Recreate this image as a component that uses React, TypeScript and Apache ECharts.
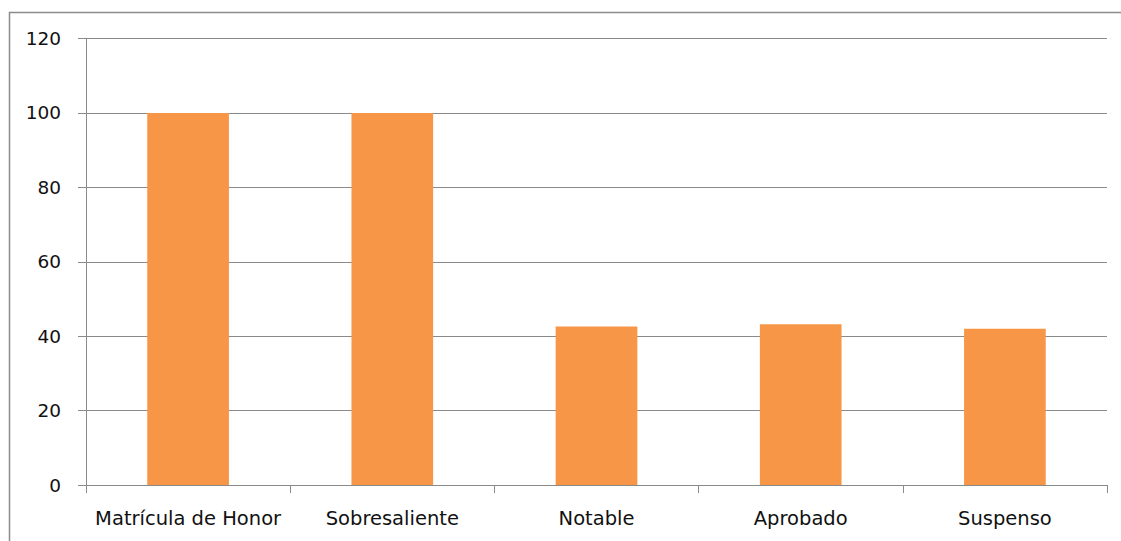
import React, { useEffect, useRef } from "react";
import * as echarts from "echarts";

const categories = ["Matrícula de Honor", "Sobresaliente", "Notable", "Aprobado", "Suspenso"];
const values = [100, 100, 42.6, 43.2, 42.0];
const yMin = 0;
const yMax = 120;
const yStep = 20;

export default function App() {
  const ref = useRef<HTMLDivElement>(null);

  useEffect(() => {
    if (!ref.current) return;
    const chart = echarts.init(ref.current, undefined, { renderer: "svg" });
    const font = "'DejaVu Sans', sans-serif";
    chart.setOption({
      animation: false,
      backgroundColor: "#ffffff",
      graphic: [
        {
          type: "rect",
          shape: { x: 9.5, y: 12.5, width: 1200, height: 600 },
          style: { fill: "none", stroke: "#8c8c8c", lineWidth: 1.5 },
          silent: true,
        },
      ],
      grid: { left: 86, right: 14, top: 38.5, bottom: 56 },
      xAxis: {
        type: "category",
        data: categories,
        boundaryGap: true,
        axisLine: { show: true, lineStyle: { color: "#8a8a8a", width: 1 } },
        axisTick: { show: true, length: 8, alignWithLabel: false, lineStyle: { color: "#8a8a8a" } },
        axisLabel: { color: "#111111", fontSize: 19.5, fontFamily: font, margin: 23, interval: 0 },
        splitLine: { show: false },
      },
      yAxis: {
        type: "value",
        min: yMin,
        max: yMax,
        interval: yStep,
        axisLine: { show: true, lineStyle: { color: "#8a8a8a", width: 1 } },
        axisTick: { show: true, length: 8, lineStyle: { color: "#8a8a8a" } },
        axisLabel: { color: "#111111", fontSize: 18.5, fontFamily: font, margin: 25 },
        splitLine: { show: true, lineStyle: { color: "#8a8a8a", width: 1 } },
      },
      series: [
        {
          type: "bar",
          data: values,
          barWidth: "40%",
          itemStyle: { color: "#F79646" },
        },
      ],
    });
    return () => chart.dispose();
  }, []);

  return (
    <div
      ref={ref}
      style={{ position: "fixed", left: 0, top: 0, width: 1121, height: 541 }}
    />
  );
}
